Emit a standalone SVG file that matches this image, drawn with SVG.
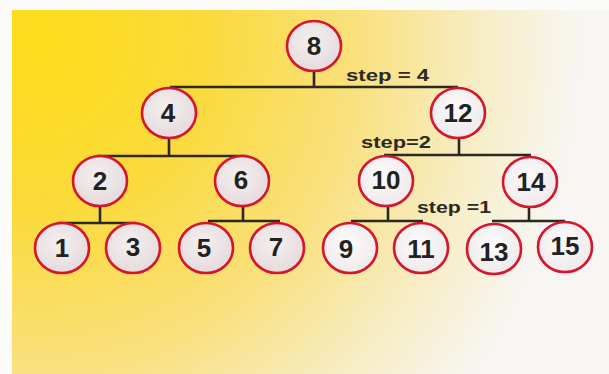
<svg xmlns="http://www.w3.org/2000/svg" width="609" height="374" viewBox="0 0 609 374">
  <defs>
    <radialGradient id="bg" gradientUnits="userSpaceOnUse" cx="0" cy="0" r="1" gradientTransform="translate(40 40) scale(540 560)">
      <stop offset="0" stop-color="#FDDD1A"/>
      <stop offset="0.3" stop-color="#FBDA3A"/>
      <stop offset="0.58" stop-color="#F9E07C"/>
      <stop offset="0.8" stop-color="#F7ECC0"/>
      <stop offset="1" stop-color="#F7F6F2"/>
    </radialGradient>
    <radialGradient id="fillA" cx="0.45" cy="0.4" r="0.65">
      <stop offset="0" stop-color="#F4F0F0"/>
      <stop offset="1" stop-color="#E4D8DA"/>
    </radialGradient>
    <radialGradient id="fillB" cx="0.45" cy="0.4" r="0.65">
      <stop offset="0" stop-color="#FCFBFB"/>
      <stop offset="1" stop-color="#EEE8E9"/>
    </radialGradient>
  </defs>
  <style>
    .node ellipse { stroke: #D7142C; stroke-width: 2.6; }
    .a ellipse { fill: url(#fillA); }
    .b ellipse { fill: url(#fillB); }
    .node text { font-family: "Liberation Sans", Arial, sans-serif; font-weight: bold; font-size: 26px; fill: #222222; text-anchor: middle; }
    .edge { stroke: #2A2A22; stroke-width: 2.6; fill: none; }
    .lbl { font-family: "Liberation Sans", Arial, sans-serif; font-weight: bold; font-size: 16px; fill: #2A2A22; }
  </style>

  <!-- page and tinted panel -->
  <rect x="0" y="0" width="609" height="374" fill="#FBFBFA"/>
  <rect x="12" y="10" width="597" height="364" fill="url(#bg)"/>

  <!-- connectors -->
  <g id="connectors">
    <path class="edge" d="M314 71V88 M170 87H458"/>
    <path class="edge" d="M169 138V157 M97 156H247"/>
    <path class="edge" d="M459 138V156 M384 155H531"/>
    <path class="edge" d="M100 206V224 M58 223H136"/>
    <path class="edge" d="M243 206V222 M208 221H280"/>
    <path class="edge" d="M388 206V222 M351 221H423"/>
    <path class="edge" d="M529 206V222 M492 221H565"/>
    <text class="lbl" x="346" y="81" textLength="83" lengthAdjust="spacingAndGlyphs">step = 4</text>
    <text class="lbl" x="361" y="148" textLength="70" lengthAdjust="spacingAndGlyphs">step=2</text>
    <text class="lbl" x="417" y="213" textLength="74" lengthAdjust="spacingAndGlyphs">step =1</text>
  </g>

  <!-- level 0 -->
  <g id="n8" class="node a"><ellipse cx="314" cy="46" rx="27" ry="25"/><text x="314" y="55">8</text></g>
  <!-- level 1 -->
  <g id="n4" class="node a"><ellipse cx="169" cy="113" rx="27" ry="25"/><text x="168" y="122">4</text></g>
  <g id="n12" class="node b"><ellipse cx="458" cy="113" rx="27" ry="25"/><text x="458" y="122">12</text></g>
  <!-- level 2 -->
  <g id="n2" class="node a"><ellipse cx="100" cy="181" rx="27" ry="25"/><text x="100" y="190">2</text></g>
  <g id="n6" class="node a"><ellipse cx="242" cy="181" rx="27" ry="25"/><text x="241" y="189">6</text></g>
  <g id="n10" class="node b"><ellipse cx="386" cy="181" rx="27" ry="25"/><text x="386" y="189">10</text></g>
  <g id="n14" class="node b"><ellipse cx="530" cy="182" rx="27" ry="25"/><text x="531" y="191">14</text></g>
  <!-- level 3 -->
  <g id="n1" class="node a"><ellipse cx="62" cy="248" rx="27" ry="25"/><text x="62" y="257">1</text></g>
  <g id="n3" class="node a"><ellipse cx="133" cy="248" rx="27" ry="25"/><text x="133" y="256">3</text></g>
  <g id="n5" class="node a"><ellipse cx="206" cy="248" rx="27" ry="25"/><text x="204" y="257">5</text></g>
  <g id="n7" class="node a"><ellipse cx="277" cy="248" rx="27" ry="25"/><text x="276" y="256">7</text></g>
  <g id="n9" class="node b"><ellipse cx="350" cy="248" rx="27" ry="25"/><text x="346" y="258">9</text></g>
  <g id="n11" class="node b"><ellipse cx="421" cy="248" rx="27" ry="25"/><text x="421" y="258">11</text></g>
  <g id="n13" class="node b"><ellipse cx="494" cy="249" rx="27" ry="25"/><text x="494" y="261">13</text></g>
  <g id="n15" class="node b"><ellipse cx="565" cy="247" rx="27" ry="25"/><text x="565" y="255">15</text></g>
</svg>
